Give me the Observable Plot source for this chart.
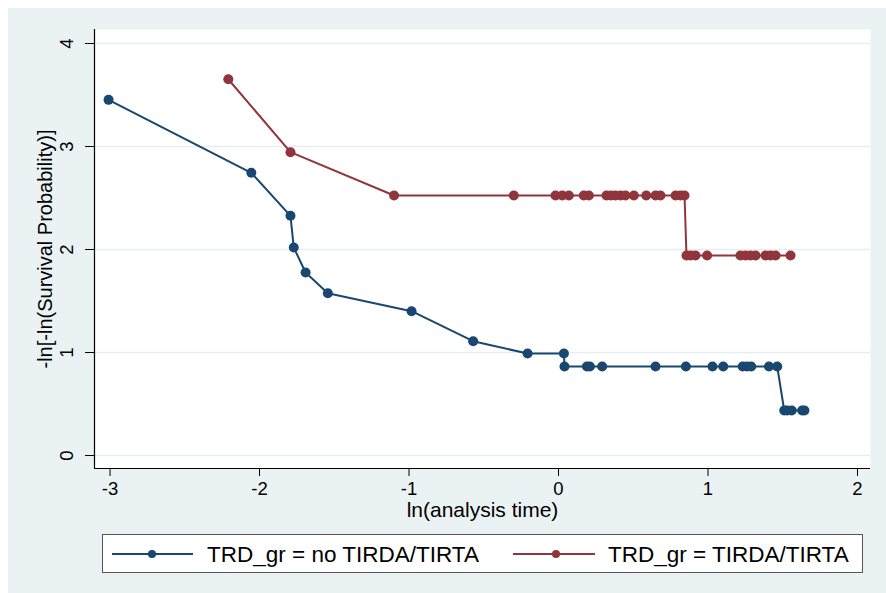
<!DOCTYPE html>
<html>
<head>
<meta charset="utf-8">
<script src="https://cdn.jsdelivr.net/npm/d3@7"></script>
<script src="https://cdn.jsdelivr.net/npm/@observablehq/plot@0.6"></script>
<style>
  body { margin: 0; background: #fff; font-family: "Liberation Sans", Arial, sans-serif; }
  #bg { position: absolute; left: 8px; top: 8px; width: 878px; height: 585px; background: #eaf2f3; }
  #chart { position: absolute; left: 0; top: 0; }
  #legend { position: absolute; left: 102px; top: 534px; }
</style>
</head>
<body>
<div id="bg"></div>
<div id="chart"></div>
<div id="legend"></div>
<script>
// Series 1: TRD_gr = no TIRDA/TIRTA
const blueX = [-3.01, -2.055, -1.793, -1.771, -1.692, -1.543, -0.983, -0.571, -0.207, 0.036,
  0.04, 0.19, 0.21, 0.292, 0.649, 0.852, 1.03, 1.102, 1.232, 1.262, 1.289, 1.408, 1.463,
  1.51, 1.53, 1.56, 1.63, 1.645];
const blueY = [3.453, 2.745, 2.327, 2.019, 1.777, 1.576, 1.401, 1.110, 0.99, 0.99,
  0.864, 0.864, 0.864, 0.864, 0.864, 0.864, 0.864, 0.864, 0.864, 0.864, 0.864, 0.864, 0.864,
  0.437, 0.437, 0.437, 0.437, 0.437];
// Series 2: TRD_gr = TIRDA/TIRTA
const redX = [-2.209, -1.793, -1.10, -0.299, -0.02, 0.025, 0.069, 0.169, 0.203, 0.321, 0.352,
  0.381, 0.415, 0.448, 0.504, 0.587, 0.649, 0.682, 0.783, 0.816, 0.843,
  0.856, 0.883, 0.916, 0.994, 1.217, 1.251, 1.284, 1.318, 1.385, 1.418, 1.452, 1.552];
const redY = [3.653, 2.945, 2.524, 2.524, 2.524, 2.524, 2.524, 2.524, 2.524, 2.524, 2.524,
  2.524, 2.524, 2.524, 2.524, 2.524, 2.524, 2.524, 2.524, 2.524, 2.524,
  1.942, 1.942, 1.942, 1.942, 1.942, 1.942, 1.942, 1.942, 1.942, 1.942, 1.942, 1.942];

const seriesNames = ["TRD_gr = no TIRDA/TIRTA", "TRD_gr = TIRDA/TIRTA"];
const seriesColors = ["#1a476f", "#90353b"];
const xTicks = [-3, -2, -1, 0, 1, 2];
const yTicks = [0, 1, 2, 3, 4];
const xTitle = "ln(analysis time)";
const yTitle = "-ln[-ln(Survival Probability)]";

const xDomain = [-3.104, 2.087];
const yDomain = [-0.126, 4.136];

const blue = blueX.map((x, i) => ({x, y: blueY[i]}));
const red = redX.map((x, i) => ({x, y: redY[i]}));

const plot = Plot.plot({
  width: 886,
  height: 530,
  marginLeft: 94,
  marginRight: 16,
  marginTop: 29,
  marginBottom: 62,
  style: {background: "transparent", fontFamily: "'Liberation Sans', Arial, sans-serif", fontSize: "18px", color: "#000", overflow: "visible"},
  x: {domain: xDomain},
  y: {domain: yDomain},
  marks: [
    Plot.frame({fill: "white", stroke: "none"}),
    Plot.ruleY(yTicks, {stroke: "#e6eef1", strokeWidth: 1.5}),
    Plot.ruleX([xDomain[0]], {stroke: "#000", strokeWidth: 1.2}),
    Plot.ruleY([yDomain[0]], {stroke: "#000", strokeWidth: 1.2}),
    Plot.axisX({ticks: xTicks, tickSize: 8, tickPadding: 5, fontSize: 18.5, label: null, tickFormat: d => String(d)}),
    Plot.axisY({ticks: yTicks, tickSize: 9, tickFormat: () => "", label: null}),
    Plot.text(yTicks, {y: d => d, frameAnchor: "left", dx: -27, rotate: -90, text: d => String(d),
      fontSize: 18.5, textAnchor: "middle", lineAnchor: "middle"}),
    Plot.text([yTitle], {frameAnchor: "left", dx: -49, rotate: -90, fontSize: 20,
      textAnchor: "middle", lineAnchor: "middle"}),
    Plot.text([xTitle], {frameAnchor: "bottom", dy: 42, fontSize: 21,
      textAnchor: "middle", lineAnchor: "middle"}),
    Plot.line(blue, {x: "x", y: "y", stroke: seriesColors[0], strokeWidth: 2}),
    Plot.dot(blue, {x: "x", y: "y", r: 5, fill: seriesColors[0], stroke: "none"}),
    Plot.line(red, {x: "x", y: "y", stroke: seriesColors[1], strokeWidth: 2}),
    Plot.dot(red, {x: "x", y: "y", r: 5, fill: seriesColors[1], stroke: "none"})
  ]
});
document.getElementById("chart").appendChild(plot);

// Legend
const lg = d3.select("#legend").append("svg")
  .attr("width", 761).attr("height", 39)
  .style("display", "block");
lg.append("rect").attr("x", 0.5).attr("y", 0.5).attr("width", 760).attr("height", 38)
  .attr("fill", "#fff").attr("stroke", "#555");
const items = [
  {x1: 10, x2: 91, cx: 50, tx: 105},
  {x1: 411, x2: 493, cx: 454, tx: 506}
];
items.forEach((it, i) => {
  lg.append("line").attr("x1", it.x1).attr("x2", it.x2).attr("y1", 20).attr("y2", 20)
    .attr("stroke", seriesColors[i]).attr("stroke-width", 2);
  lg.append("circle").attr("cx", it.cx).attr("cy", 20).attr("r", 4).attr("fill", seriesColors[i]);
  lg.append("text").attr("x", it.tx).attr("y", 28).text(seriesNames[i])
    .style("font-family", "'Liberation Sans', Arial, sans-serif").style("font-size", "22.5px").attr("fill", "#000");
});
</script>
</body>
</html>
